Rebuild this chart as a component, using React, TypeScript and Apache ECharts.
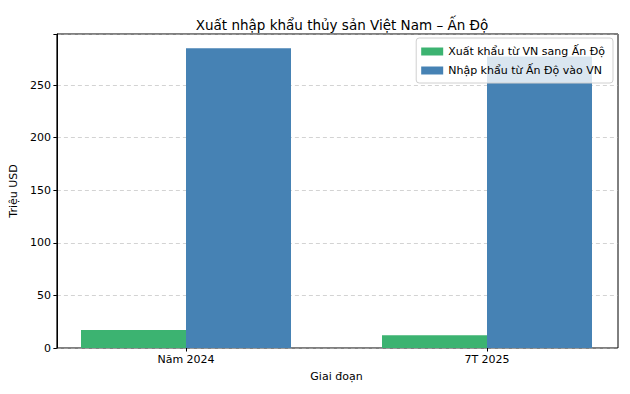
import React, { useEffect, useRef } from "react";
import * as echarts from "echarts";

const categories = ["Năm 2024", "7T 2025"];
const exportVNtoIndia = [17.1, 12.1];
const importIndiaToVN = [285, 277];
const seriesNames = ["Xuất khẩu từ VN sang Ấn Độ", "Nhập khẩu từ Ấn Độ vào VN"];
const yTicks = [0, 50, 100, 150, 200, 250];

const FONT = "DejaVu Sans";
const W = 640;

export default function App() {
  const ref = useRef<HTMLDivElement>(null);
  useEffect(() => {
    if (!ref.current) return;
    const chart = echarts.init(ref.current, null, { renderer: "svg" });
    const yMax = 298.5;
    chart.setOption({
      animation: false,
      backgroundColor: "#fff",
      textStyle: { fontFamily: FONT },
      title: {
        text: "Xuất nhập khẩu thủy sản Việt Nam – Ấn Độ",
        left: 337,
        textAlign: "center",
        top: 13,
        textStyle: { fontFamily: FONT, fontSize: 13.5, fontWeight: "normal", color: "#000" },
      },
      legend: {
        orient: "vertical",
        right: W - 613,
        top: 38,
        data: seriesNames,
        itemWidth: 22,
        itemHeight: 8,
        itemGap: 8,
        padding: [8, 8, 7, 5],
        backgroundColor: "rgba(255,255,255,0.8)",
        borderColor: "#d0d0d0",
        borderWidth: 1,
        borderRadius: 3,
        textStyle: { fontFamily: FONT, fontSize: 11, color: "#000" },
        icon: "rect",
      },
      grid: [
        { left: 56, right: W - 618, top: 34, bottom: 46, show: true, borderColor: "#000", borderWidth: 1, backgroundColor: "transparent" },
        { left: 35.5, width: 602, top: 34, bottom: 46 },
      ],
      xAxis: [
        { type: "value", gridIndex: 0, min: 0, max: 1, show: false },
        {
          type: "category",
          gridIndex: 1,
          data: categories,
          axisLine: { show: false },
          axisTick: { show: true, alignWithLabel: true, length: 3.5, lineStyle: { color: "#000" } },
          axisLabel: { fontFamily: FONT, fontSize: 11, color: "#000", margin: 6 },
          name: "Giai đoạn",
          nameLocation: "middle",
          nameGap: 23,
          nameTextStyle: { fontFamily: FONT, fontSize: 11, color: "#000" },
        },
      ],
      yAxis: [
        {
          type: "value",
          gridIndex: 0,
          min: 0,
          max: yMax,
          interval: 50,
          axisLine: { show: true, lineStyle: { color: "#000" } },
          axisTick: { show: true, length: 3.5, lineStyle: { color: "#000" } },
          axisLabel: {
            fontFamily: FONT,
            fontSize: 11,
            color: "#000",
            margin: 6,
            formatter: (v: number) => (yTicks.includes(v) ? String(v) : ""),
          },
          splitLine: { show: true, lineStyle: { color: "#b0b0b0", type: [4, 3], width: 0.8, opacity: 0.7 } },
          name: "Triệu USD",
          nameLocation: "middle",
          nameGap: 31,
          nameTextStyle: { fontFamily: FONT, fontSize: 11, color: "#000" },
        },
        { type: "value", gridIndex: 1, min: 0, max: yMax, show: false },
      ],
      series: [
        {
          name: seriesNames[0],
          type: "bar",
          xAxisIndex: 1,
          yAxisIndex: 1,
          data: exportVNtoIndia,
          barWidth: 105,
          barGap: "0%",
          itemStyle: { color: "#3CB371" },
        },
        {
          name: seriesNames[1],
          type: "bar",
          xAxisIndex: 1,
          yAxisIndex: 1,
          data: importIndiaToVN,
          barWidth: 105,
          barGap: "0%",
          itemStyle: { color: "#4682B4" },
        },
      ],
    });
    return () => chart.dispose();
  }, []);
  return <div ref={ref} style={{ width: W, height: 394, position: "fixed", left: 0, top: 0 }} />;
}
